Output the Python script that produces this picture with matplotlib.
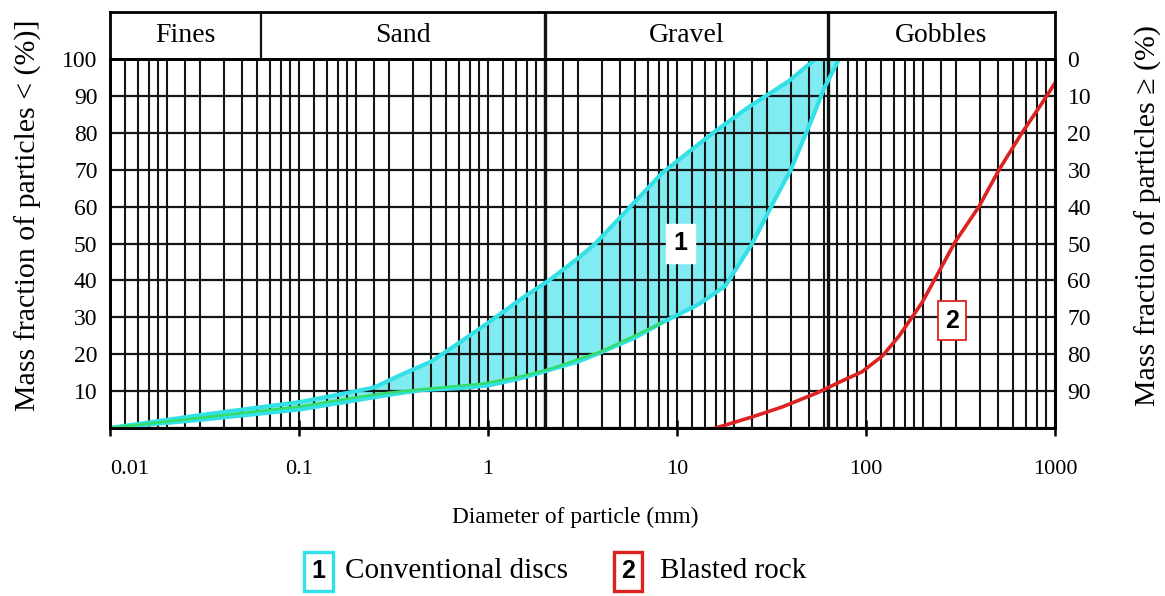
import numpy as np
import matplotlib
matplotlib.use('Agg')
import matplotlib.pyplot as plt
from matplotlib.ticker import FixedLocator, NullFormatter

plt.rcParams['font.family'] = ['Liberation Serif', 'DejaVu Serif']

# ---------------- data ----------------
zones = ['Fines', 'Sand', 'Gravel', 'Gobbles']
zone_bounds = [0.01, 0.063, 2, 63, 1000]

# Conventional discs envelope (mm, % passing)
disc_upper_d = [0.01, 0.03, 0.1, 0.18, 0.25, 0.35, 0.5, 0.7, 1.0, 1.5, 2.1, 3.0, 3.7, 5.1, 8.3, 12, 16, 24, 39, 54]
disc_upper_p = [0, 3.5, 7, 9.5, 11, 14.5, 18, 23, 28.5, 35, 40, 46, 50, 57.5, 69, 75.5, 80.5, 87, 94, 100]
disc_lower_d = [0.01, 0.03, 0.1, 0.2, 0.3, 0.45, 0.7, 1.0, 1.5, 2.1, 3.0, 4.0, 6.0, 8.3, 13, 18, 25, 33, 40, 52, 60, 72]
disc_lower_p = [0, 2.2, 5, 7.5, 9, 10.3, 10.8, 11.5, 13.5, 15.7, 18, 20.6, 24.5, 28.5, 33.5, 38.5, 50, 62, 70, 84, 92, 100]

# thin green trace
green_d = [0.01, 0.1, 0.2, 0.3, 0.45, 0.93, 1.5, 2.1, 4.0, 8.3]
green_p = [0, 5.8, 8.3, 9.6, 10.5, 12, 14, 15.9, 20.8, 28.5]

# Blasted rock
rock_d = [16, 25, 36, 55, 75, 95, 122, 150, 198, 296, 396, 506, 669, 853, 1000]
rock_p = [0, 3, 5.7, 9.5, 12.8, 15.2, 19.5, 25, 34, 50.4, 60, 70, 80, 88, 93.5]

x_ticks = [0.01, 0.1, 1, 10, 100, 1000]
x_ticklabels = ['0.01', '0.1', '1', '10', '100', '1000']
y_ticks = [0, 10, 20, 30, 40, 50, 60, 70, 80, 90, 100]
left_labels = ['', '10', '20', '30', '40', '50', '60', '70', '80', '90', '100']
right_labels = ['', '90', '80', '70', '60', '50', '40', '30', '20', '10', '0']

legend_items = [('1', 'Conventional discs'), ('2', 'Blasted rock')]

# ---------------- styles ----------------
CYAN = '#33e0e6'
FILL = '#80ecf2'
RED = '#dd2222'
GREEN = '#33dd66'
mantissas = [1.2, 1.4, 1.6, 1.8, 2, 2.5, 3, 4, 5, 6, 7, 8, 9]

W, H = 1165, 596
fig = plt.figure(figsize=(W / 100, H / 100), dpi=100)
L, R, B, T, HT = 110, 1055, 428, 59, 12
ax = fig.add_axes([L / W, 1 - B / H, (R - L) / W, (B - T) / H])
axh = fig.add_axes([L / W, 1 - T / H, (R - L) / W, (T - HT) / H])

for a in (ax, axh):
    a.set_xscale('log')
    a.set_xlim(0.01, 1000)

ax.set_ylim(0, 100)

# grid
minor = [m * 10.0 ** e for e in range(-2, 3) for m in mantissas]
ax.xaxis.set_minor_locator(FixedLocator(minor))
ax.xaxis.set_minor_formatter(NullFormatter())
ax.set_xticks(x_ticks)
ax.set_xticklabels(x_ticklabels)
ax.set_yticks(y_ticks)
ax.set_yticklabels(left_labels)
ax.set_axisbelow(False)
ax.grid(True, which='both', axis='x', color='#151515', lw=1.5)
ax.grid(True, which='major', axis='y', color='#151515', lw=1.6)
ax.tick_params(axis='x', which='major', direction='inout', length=12, width=1.8,
               labelsize=16, pad=17)
ax.tick_params(axis='x', which='minor', length=0)
ax.tick_params(axis='y', length=0, pad=9, labelsize=17)
ax.get_xticklabels()[0].set_ha('left')
for s in ax.spines.values():
    s.set_linewidth(2)

for b in zone_bounds[2:4]:
    ax.axvline(b, color='#111111', lw=2.4, zorder=2.7)

# envelope fill + outline
env_d = disc_upper_d + disc_lower_d[::-1]
env_p = disc_upper_p + disc_lower_p[::-1]
ax.fill(env_d, env_p, color=FILL, zorder=1, lw=0)
ax.plot(green_d, green_p, color=GREEN, lw=1.8, zorder=3.6)
ax.plot(env_d, env_p, color=CYAN, lw=3, zorder=3.5, solid_joinstyle='round')
ax.plot(rock_d, rock_p, color=RED, lw=2.6, zorder=3.5, solid_joinstyle='round')

ax.text(10.4, 50, '1', fontsize=18, fontweight='bold', family='Liberation Sans',
        ha='center', va='center', zorder=5,
        bbox=dict(boxstyle='square,pad=0.3', fc='white', ec='white', lw=1))
ax.text(285, 29, '2', fontsize=18, fontweight='bold', family='Liberation Sans',
        ha='center', va='center', zorder=5,
        bbox=dict(boxstyle='square,pad=0.3', fc='white', ec=RED, lw=1.3))

# right axis
ax2 = ax.twinx()
ax2.set_ylim(0, 100)
ax2.set_yticks(y_ticks)
ax2.set_yticklabels(right_labels)
ax2.tick_params(axis='y', length=0, pad=9, labelsize=17)
for lab in ax2.get_yticklabels():
    lab.set_ha('left')
for s in ax2.spines.values():
    s.set_linewidth(2)

# header
axh.set_ylim(0, 1)
axh.set_xticks([])
axh.set_yticks([])
axh.xaxis.set_minor_locator(FixedLocator([]))
for s in axh.spines.values():
    s.set_linewidth(2)
for b in zone_bounds[1:4]:
    axh.axvline(b, color='#111111', lw=1.6 if b < 1 else 2.4)
for i, z in enumerate(zones):
    c = np.sqrt(zone_bounds[i] * zone_bounds[i + 1])
    axh.text(c, 0.5, z, ha='center', va='center', fontsize=20)

# axis labels
fig.text(28 / W, 1 - 215 / H, 'Mass fraction of particles < (%)]', rotation=90,
         ha='center', va='center', fontsize=21.5)
fig.text(1148 / W, 1 - 215 / H, 'Mass fraction of particles \u2265 (%)', rotation=90,
         ha='center', va='center', fontsize=21.5)
fig.text(575 / W, 1 - 517 / H, 'Diameter of particle (mm)', ha='center', va='center',
         fontsize=16.8)

# legend
leg_pos = [(318, 345, CYAN), (628, 660, RED)]
for (num, lab), (bx, tx, col) in zip(legend_items, leg_pos):
    fig.text(bx / W, 1 - 571 / H, num, fontsize=18, fontweight='bold',
             family='Liberation Sans', ha='center', va='center',
             bbox=dict(boxstyle='square,pad=0.3', fc='white', ec=col, lw=2.4))
    fig.text(tx / W, 1 - 571 / H, lab, ha='left', va='center', fontsize=21)

fig.savefig('out.png', dpi=100)
